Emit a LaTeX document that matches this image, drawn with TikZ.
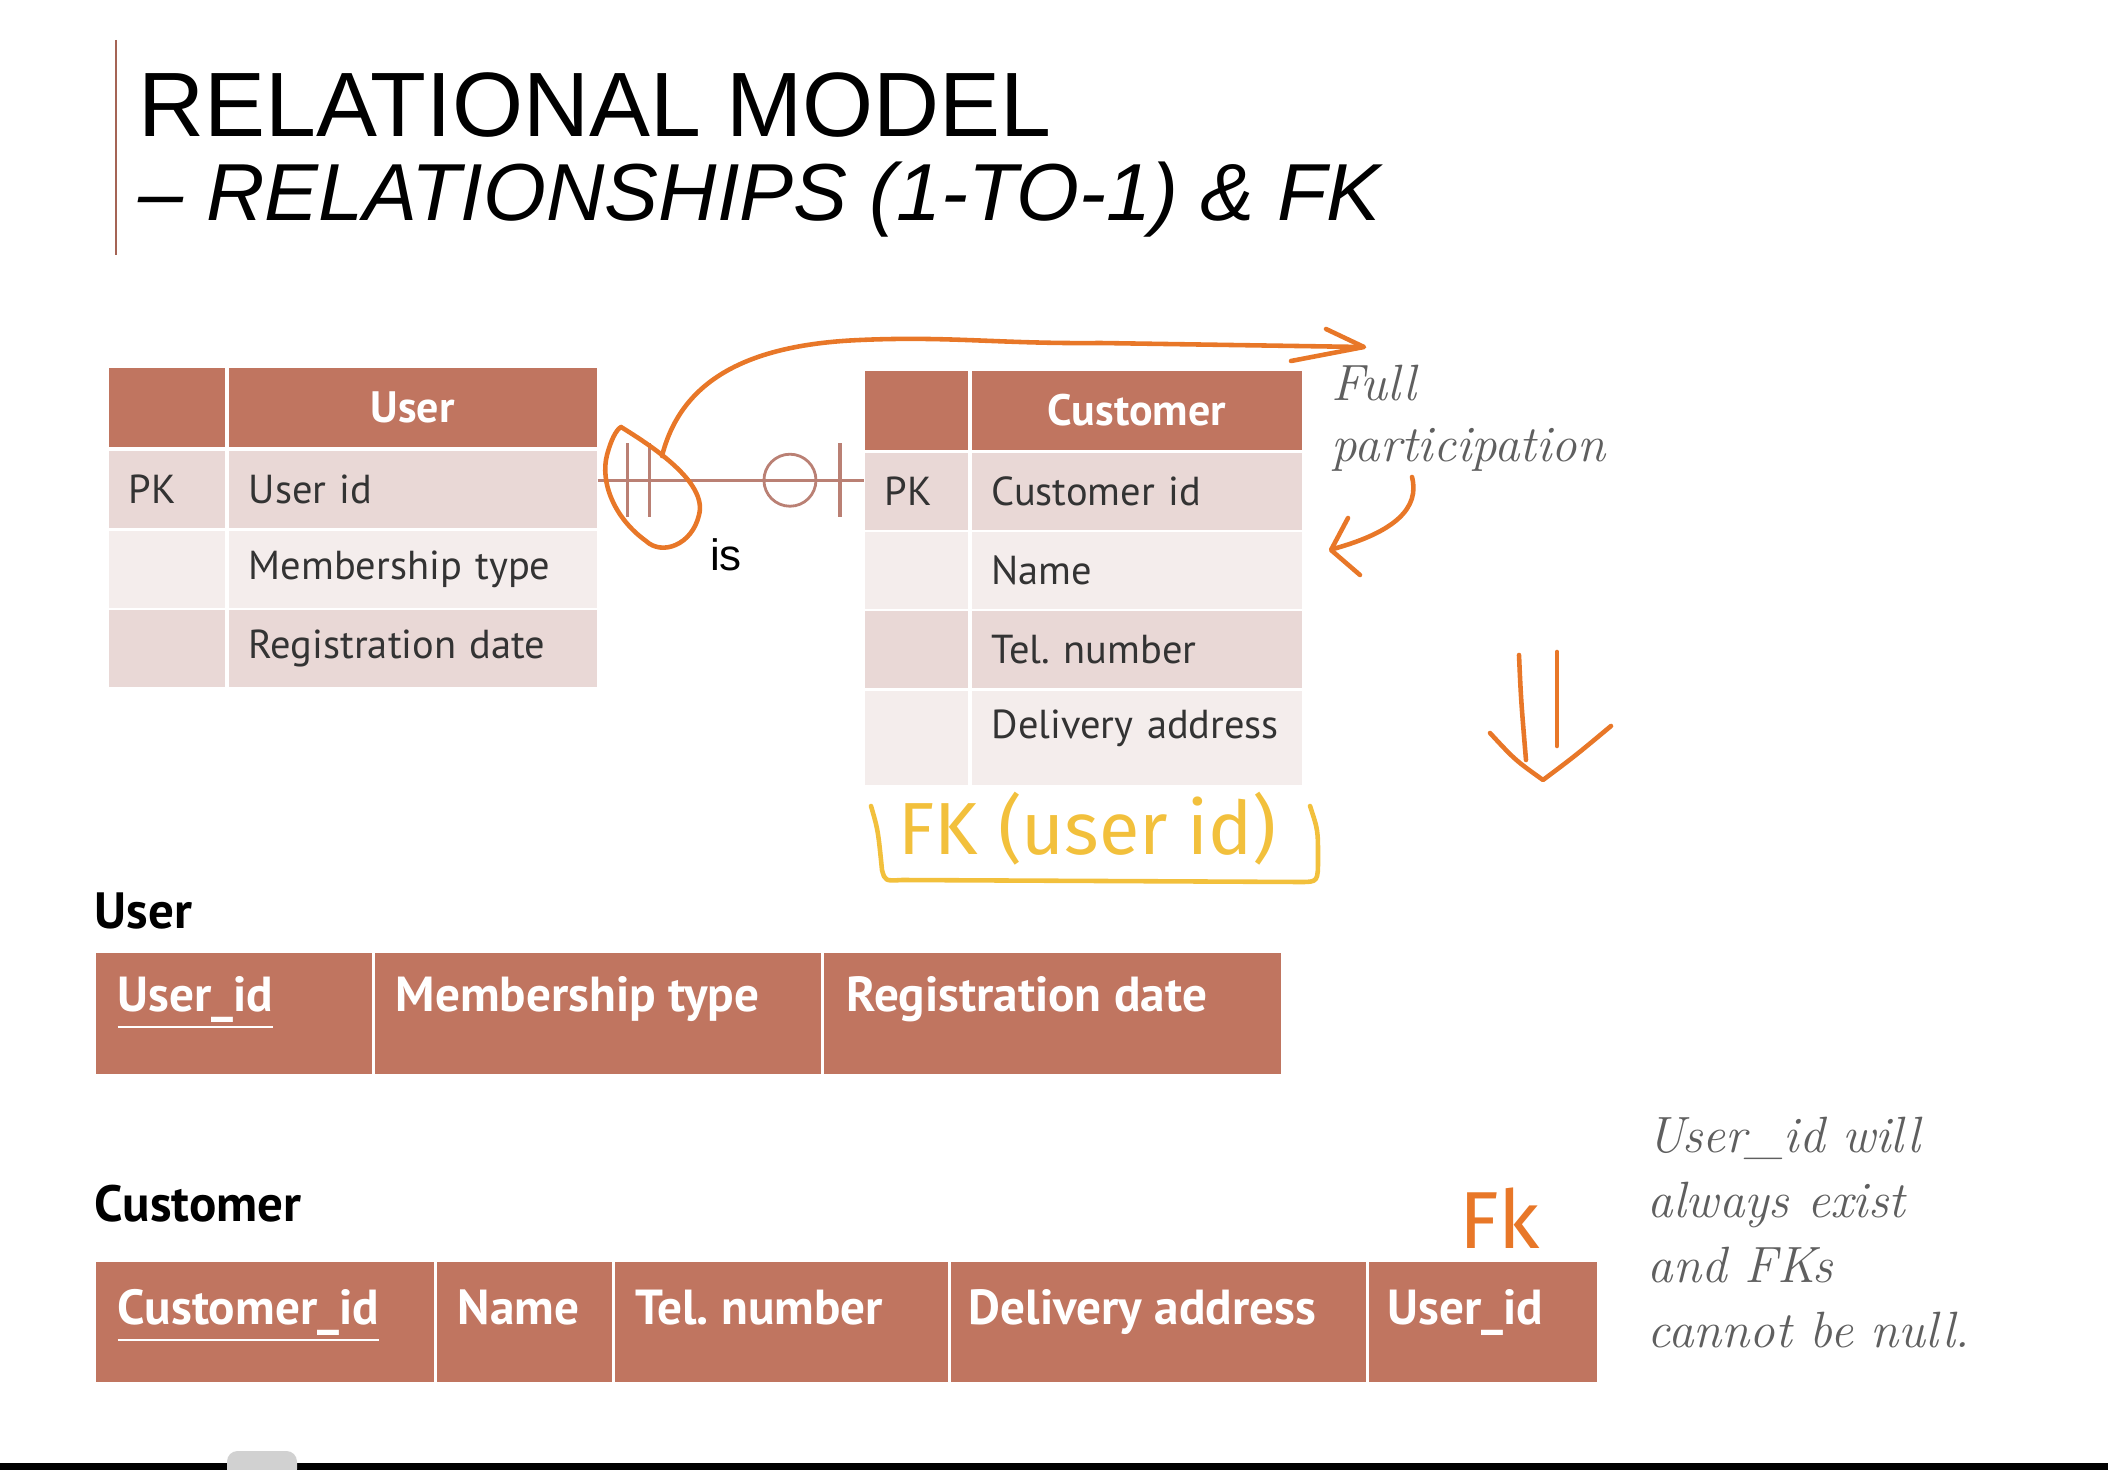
\documentclass[tikz,border=0pt]{standalone}
\usepackage{fontspec}
\newfontfamily\titlefont{Liberation Sans}
\newfontfamily\tabfont{PT Sans}
\newfontfamily\penfont{Fira Sans}
\definecolor{hdrbrown}{RGB}{192,117,96}
\definecolor{rowdark}{RGB}{233,216,214}
\definecolor{rowlight}{RGB}{244,237,236}
\definecolor{linkbrown}{RGB}{186,128,116}
\definecolor{penorange}{RGB}{232,119,40}
\definecolor{penyellow}{RGB}{242,192,60}
\definecolor{pengray}{RGB}{95,95,95}
\definecolor{barbrown}{RGB}{165,100,85}
\begin{document}
\begin{tikzpicture}[x=0.01cm, y=-0.01cm,
    hdr/.style={anchor=north west, fill=hdrbrown, text=white, inner sep=0pt, minimum height=0.79cm, font=\tabfont\bfseries\fontsize{12.5}{14}\selectfont},
    row/.style={anchor=north west, inner xsep=0.2cm, inner ysep=0pt, minimum height=0.77cm, align=left, text=black!80, font=\tabfont\fontsize{11.5}{13}\selectfont},
    dark/.style={fill=rowdark},
    light/.style={fill=rowlight},
    rel/.style={anchor=north west, fill=hdrbrown, inner sep=0pt},
    reltext/.style={anchor=base west, text=white, inner sep=0pt, font=\tabfont\bfseries\fontsize{14}{16}\selectfont},
    relname/.style={anchor=base west, inner sep=0pt, font=\tabfont\bfseries\fontsize{14.5}{16}\selectfont},
    link/.style={draw=linkbrown, line width=0.9pt},
    pen/.style={penorange, line width=1.3pt, line cap=round, line join=round},
    hand/.style={anchor=north west, align=left, inner sep=0pt, text=pengray}]
  \useasboundingbox (0,0) rectangle (2108,1470);

  \draw[barbrown, line width=0.8pt] (116,40) -- (116,255);
  \node[anchor=base west, inner sep=0pt, font=\titlefont\fontsize{26}{30}\selectfont] (title1) at (138,137) {RELATIONAL MODEL};
  \node[anchor=base west, inner sep=0pt, font=\titlefont\itshape\fontsize{23}{27}\selectfont] (title2) at (138,221) {– RELATIONSHIPS (1-TO-1) \& FK};

  \node[hdr, minimum width=1.16cm] (u-hk) at (108,367) {};
  \node[hdr, minimum width=3.68cm] (u-hn) at (228,367) {User};
  \node[row, dark, text width=0.76cm] (u-k1) at (108,450) {PK};
  \node[row, dark, text width=3.28cm] (u-n1) at (228,450) {User id};
  \node[row, light, text width=0.76cm] (u-k2) at (108,530) {};
  \node[row, light, text width=3.28cm] (u-n2) at (228,530) {Membership type};
  \node[row, dark, text width=0.76cm] (u-k3) at (108,609) {};
  \node[row, dark, text width=3.28cm] (u-n3) at (228,609) {Registration date};

  \node[hdr, minimum width=1.03cm] (c-hk) at (864,370) {};
  \node[hdr, minimum width=3.30cm] (c-hn) at (971,370) {Customer};
  \node[row, dark, text width=0.63cm] (c-k1) at (864,452) {PK};
  \node[row, dark, text width=2.90cm] (c-n1) at (971,452) {Customer id};
  \node[row, light, text width=0.63cm] (c-k2) at (864,531) {};
  \node[row, light, text width=2.90cm] (c-n2) at (971,531) {Name};
  \node[row, dark, text width=0.63cm] (c-k3) at (864,610) {};
  \node[row, dark, text width=2.90cm] (c-n3) at (971,610) {Tel.\ number};
  \node[row, light, text width=0.63cm, minimum height=0.94cm] (c-k4) at (864,690) {};
  \node[row, light, text width=2.90cm, minimum height=0.94cm, text depth=0.27cm] (c-n4) at (971,690) {Delivery address};

  \coordinate (lnk-a) at ([yshift=0.09cm]u-n1.east);
  \coordinate (lnk-b) at (lnk-a -| c-k1.west);
  \draw[link] (lnk-a) -- (lnk-b);
  \draw[link] ([xshift=0.30cm]lnk-a) ++(0,-37) -- ++(0,74);
  \draw[link] ([xshift=0.52cm]lnk-a) ++(0,-37) -- ++(0,74);
  \node[circle, draw=linkbrown, line width=0.8pt, minimum size=0.52cm, inner sep=0pt] (lnk-o) at ([xshift=-0.74cm]lnk-b) {};
  \draw[link] ([xshift=-0.24cm]lnk-b) ++(0,-37) -- ++(0,74);
  \node[font=\titlefont\fontsize{12.5}{14}\selectfont] (is-lbl) at (726,555) {is};

  \draw[pen] (621,427) .. controls (650,445) and (708,482) .. (699,515) .. controls (692,545) and (662,556) .. (646,541)
    .. controls (614,518) and (600,482) .. (607,455) .. controls (611,440) and (616,430) .. (621,427);
  \draw[pen] (662,456) .. controls (680,385) and (740,345) .. (860,340) .. controls (950,336) and (1000,344) .. (1100,343) -- (1362,347);
  \draw[pen] (1326,329) -- (1364,347) -- (1291,361);
  \node[hand, font=\normalfont\itshape\fontsize{14.5}{17.6}\selectfont] (full-note) at (1331,364) {Full\\participation};
  \draw[pen] (1412,477) .. controls (1420,508) and (1395,532) .. (1333,549);
  \draw[pen] (1348,518) -- (1331,550) -- (1360,575);
  \draw[pen] (1519,655) .. controls (1521,700) .. (1526,760);
  \draw[pen] (1557,652) -- (1557,746);
  \draw[pen] (1490,733) .. controls (1515,760) .. (1543,780) .. controls (1575,756) .. (1611,726);

  \draw[penyellow, line width=1.3pt, line cap=round, line join=round] (871,806) .. controls (878,830) .. (882,870) .. controls (885,881) .. (902,880)
    -- (1300,882) .. controls (1318,882) .. (1318,858) .. controls (1318,830) .. (1310,806);
  \node[anchor=base west, inner sep=0pt, text=penyellow, font=\penfont\fontsize{21}{24}\selectfont] (fk-hint) at (898,854) {FK (user id)};

  \node[relname] (lbl-user) at (94,928) {User};
  \node[rel, minimum width=2.76cm, minimum height=1.21cm] (r-uid) at (95,952) {};
  \node[rel, minimum width=4.46cm, minimum height=1.21cm] (r-mem) at (374,952) {};
  \node[rel, minimum width=4.57cm, minimum height=1.21cm] (r-reg) at (823,952) {};
  \node[reltext] (t-uid) at ([xshift=0.22cm,yshift=-0.59cm]r-uid.north west) {\underline{User\_id}};
  \node[reltext] (t-mem) at ([xshift=0.21cm,yshift=-0.59cm]r-mem.north west) {Membership type};
  \node[reltext] (t-reg) at ([xshift=0.23cm,yshift=-0.59cm]r-reg.north west) {Registration date};

  \node[relname] (lbl-cust) at (94,1221) {Customer};
  \node[rel, minimum width=3.38cm, minimum height=1.20cm] (r-cid) at (95,1261) {};
  \node[rel, minimum width=1.75cm, minimum height=1.20cm] (r-name) at (436,1261) {};
  \node[rel, minimum width=3.33cm, minimum height=1.20cm] (r-tel) at (614,1261) {};
  \node[rel, minimum width=4.15cm, minimum height=1.20cm] (r-addr) at (950,1261) {};
  \node[rel, minimum width=2.28cm, minimum height=1.20cm] (r-fk) at (1368,1261) {};
  \node[reltext] (t-cid) at ([xshift=0.22cm,yshift=-0.63cm]r-cid.north west) {\underline{Customer\_id}};
  \node[reltext] (t-name) at ([xshift=0.21cm,yshift=-0.63cm]r-name.north west) {Name};
  \node[reltext] (t-tel) at ([xshift=0.21cm,yshift=-0.63cm]r-tel.north west) {Tel.\ number};
  \node[reltext] (t-addr) at ([xshift=0.18cm,yshift=-0.63cm]r-addr.north west) {Delivery address};
  \node[reltext] (t-fk) at ([xshift=0.19cm,yshift=-0.63cm]r-fk.north west) {User\_id};

  \node[anchor=base west, inner sep=0pt, text=penorange, font=\penfont\fontsize{23}{26}\selectfont] (fk-note) at (1459,1248) {Fk};
  \node[hand, font=\normalfont\itshape\fontsize{14.5}{18.5}\selectfont] (null-note) at (1647,1116) {User\_id will\\always exist\\and FKs\\cannot be null.};

  \fill[black] (0,1463) rectangle (2108,1470);
  \fill[black!18, rounded corners=3pt] (227,1451) rectangle (297,1480);
\end{tikzpicture}
\end{document}
